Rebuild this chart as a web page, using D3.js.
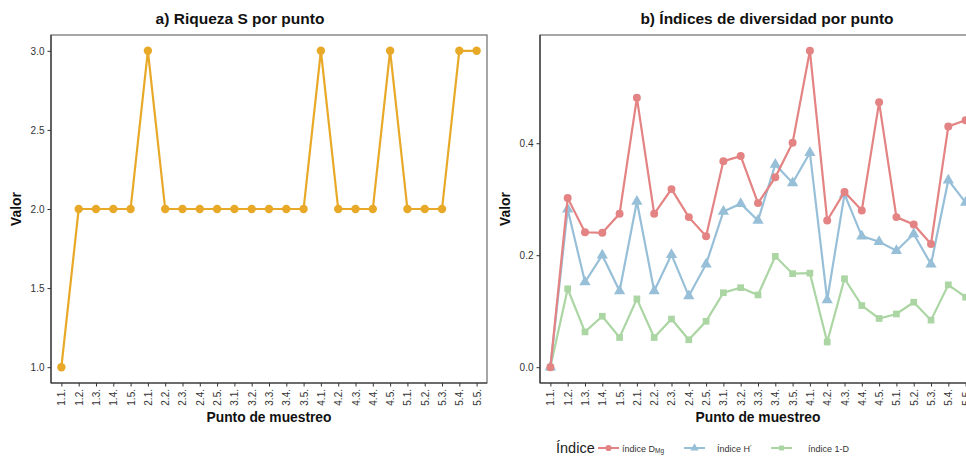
<!DOCTYPE html>
<html><head><meta charset="utf-8">
<script src="https://cdn.jsdelivr.net/npm/d3@7"></script>
<style>body{margin:0;background:#fff;overflow:hidden}text{font-family:"Liberation Sans",Arial,sans-serif}</style>
</head><body><svg id="c" width="966" height="457"></svg>
<script>
const categories = ["1.1.","1.2.","1.3.","1.4.","1.5.","2.1.","2.2.","2.3.","2.4.","2.5.","3.1.","3.2.","3.3.","3.4.","3.5.","4.1.","4.2.","4.3.","4.4.","4.5.","5.1.","5.2.","5.3.","5.4.","5.5."];
const riqueza = [1,2,2,2,2,3,2,2,2,2,2,2,2,2,2,3,2,2,2,3,2,2,2,3,3];
const margalef = [0,0.302,0.241,0.240,0.274,0.481,0.274,0.318,0.268,0.234,0.368,0.377,0.293,0.339,0.401,0.565,0.262,0.313,0.280,0.473,0.268,0.255,0.220,0.430,0.441];
const shannon = [0,0.282,0.152,0.200,0.136,0.296,0.136,0.201,0.127,0.184,0.278,0.292,0.262,0.362,0.329,0.383,0.120,0.309,0.234,0.224,0.208,0.238,0.184,0.334,0.294];
const simpson = [0,0.140,0.063,0.091,0.053,0.122,0.053,0.086,0.049,0.082,0.133,0.142,0.129,0.198,0.167,0.168,0.045,0.158,0.110,0.087,0.095,0.116,0.084,0.147,0.125];
const leftTicks = [1.0,1.5,2.0,2.5,3.0];
const rightTicks = [0.0,0.2,0.4];

const svg = d3.select("#c");
const pTop = 35, pBot = 383;

function panel(x0, x1, yDom, ticks, titleTxt, titleX){
  const g = svg.append("g");
  const x = d3.scalePoint().domain(categories).range([x0, x1]).padding(0.6);
  const y = d3.scaleLinear().domain(yDom).range([pBot, pTop]);
  g.append("rect").attr("x", x0).attr("y", pTop).attr("width", x1-x0).attr("height", pBot-pTop)
    .attr("fill","none").attr("stroke","#6b6b6b").attr("stroke-width",1.2);
  g.append("line").attr("x1",x0).attr("x2",x0).attr("y1",pTop).attr("y2",pBot).attr("stroke","#333").attr("stroke-width",1.2);
  g.append("line").attr("x1",x0).attr("x2",x1).attr("y1",pBot).attr("y2",pBot).attr("stroke","#333").attr("stroke-width",1.2);
  const ya = g.append("g").attr("transform",`translate(${x0},0)`)
    .call(d3.axisLeft(y).tickValues(ticks).tickFormat(d3.format(".1f")).tickSize(3.5).tickPadding(3));
  ya.select(".domain").remove();
  ya.selectAll("line").attr("stroke","#333");
  ya.selectAll("text").attr("font-size",10).attr("fill","#333");
  const xa = g.append("g").attr("transform",`translate(0,${pBot})`)
    .call(d3.axisBottom(x).tickSize(3.5).tickPadding(3));
  xa.select(".domain").remove();
  xa.selectAll("line").attr("stroke","#333");
  xa.selectAll("text").attr("font-size",10).attr("fill","#333")
    .attr("transform","rotate(-90)").attr("text-anchor","end")
    .attr("x",-6).attr("y",0).attr("dy","0.35em");
  svg.append("text").attr("x", titleX).attr("y", 24).attr("text-anchor","middle")
    .attr("font-size",15.5).attr("font-weight","bold").attr("fill","#111").text(titleTxt);
  svg.append("text").attr("x", (x0+x1)/2).attr("y", 422).attr("text-anchor","middle")
    .attr("font-size",13.8).attr("font-weight","bold").attr("fill","#111").text("Punto de muestreo");
  svg.append("text").attr("transform",`translate(${x0-30},${(pTop+pBot)/2}) rotate(-90)`)
    .attr("text-anchor","middle").attr("font-size",13.8).attr("font-weight","bold").attr("fill","#111").text("Valor");
  return {g, x, y};
}

const L = panel(51, 487, [0.9, 3.1], leftTicks, "a) Riqueza S por punto", 240);
const lineL = d3.line().x((d,i)=>L.x(categories[i])).y(d=>L.y(d));
L.g.append("path").datum(riqueza).attr("d", lineL).attr("fill","none").attr("stroke","#E8A928").attr("stroke-width",2.2);
L.g.selectAll("circle.p").data(riqueza).join("circle").attr("cx",(d,i)=>L.x(categories[i])).attr("cy",d=>L.y(d)).attr("r",4.2).attr("fill","#E8A928");

const R = panel(540, 976, [-0.02825, 0.59325], rightTicks, "b) Índices de diversidad por punto", 767);
const series = [
  {name:"m", vals: margalef, color:"#E38383", shape: d3.symbolCircle, size: 50},
  {name:"s", vals: shannon, color:"#97BFD8", shape: d3.symbolTriangle, size: 55},
  {name:"d", vals: simpson, color:"#ABD6A3", shape: d3.symbolSquare, size: 45}
];
series.slice().reverse().forEach(s=>{
  const ln = d3.line().x((d,i)=>R.x(categories[i])).y(d=>R.y(d));
  R.g.append("path").datum(s.vals).attr("d", ln).attr("fill","none").attr("stroke", s.color).attr("stroke-width",2.2);
  R.g.selectAll(null).data(s.vals).join("path")
    .attr("transform",(d,i)=>`translate(${R.x(categories[i])},${R.y(d)})`)
    .attr("d", d3.symbol().type(s.shape).size(s.size)).attr("fill", s.color);
});

const lg = svg.append("g");
lg.append("text").attr("x",556).attr("y",453).attr("font-size",14.5).attr("fill","#222").text("Índice");
const items = [
  {x:598, tx:622, color:"#E38383", shape:d3.symbolCircle, size:30},
  {x:684, tx:717, color:"#97BFD8", shape:d3.symbolTriangle, size:30},
  {x:771, tx:808, color:"#ABD6A3", shape:d3.symbolSquare, size:25}
];
items.forEach((it,k)=>{
  lg.append("line").attr("x1",it.x).attr("x2",it.x+21).attr("y1",448).attr("y2",448).attr("stroke",it.color).attr("stroke-width",2);
  lg.append("path").attr("transform",`translate(${it.x+10.5},448)`).attr("d",d3.symbol().type(it.shape).size(it.size)).attr("fill",it.color);
  const t = lg.append("text").attr("x",it.tx).attr("y",451.5).attr("font-size",9).attr("fill","#333");
  if(k===0){ t.append("tspan").text("índice D"); t.append("tspan").attr("font-size",6.5).attr("dy",1.5).text("Mg"); }
  else if(k===1){ t.append("tspan").text("Índice H"); t.append("tspan").attr("font-size",7).attr("dy",-2).text("'"); }
  else { t.text("índice 1-D"); }
});
</script></body></html>
